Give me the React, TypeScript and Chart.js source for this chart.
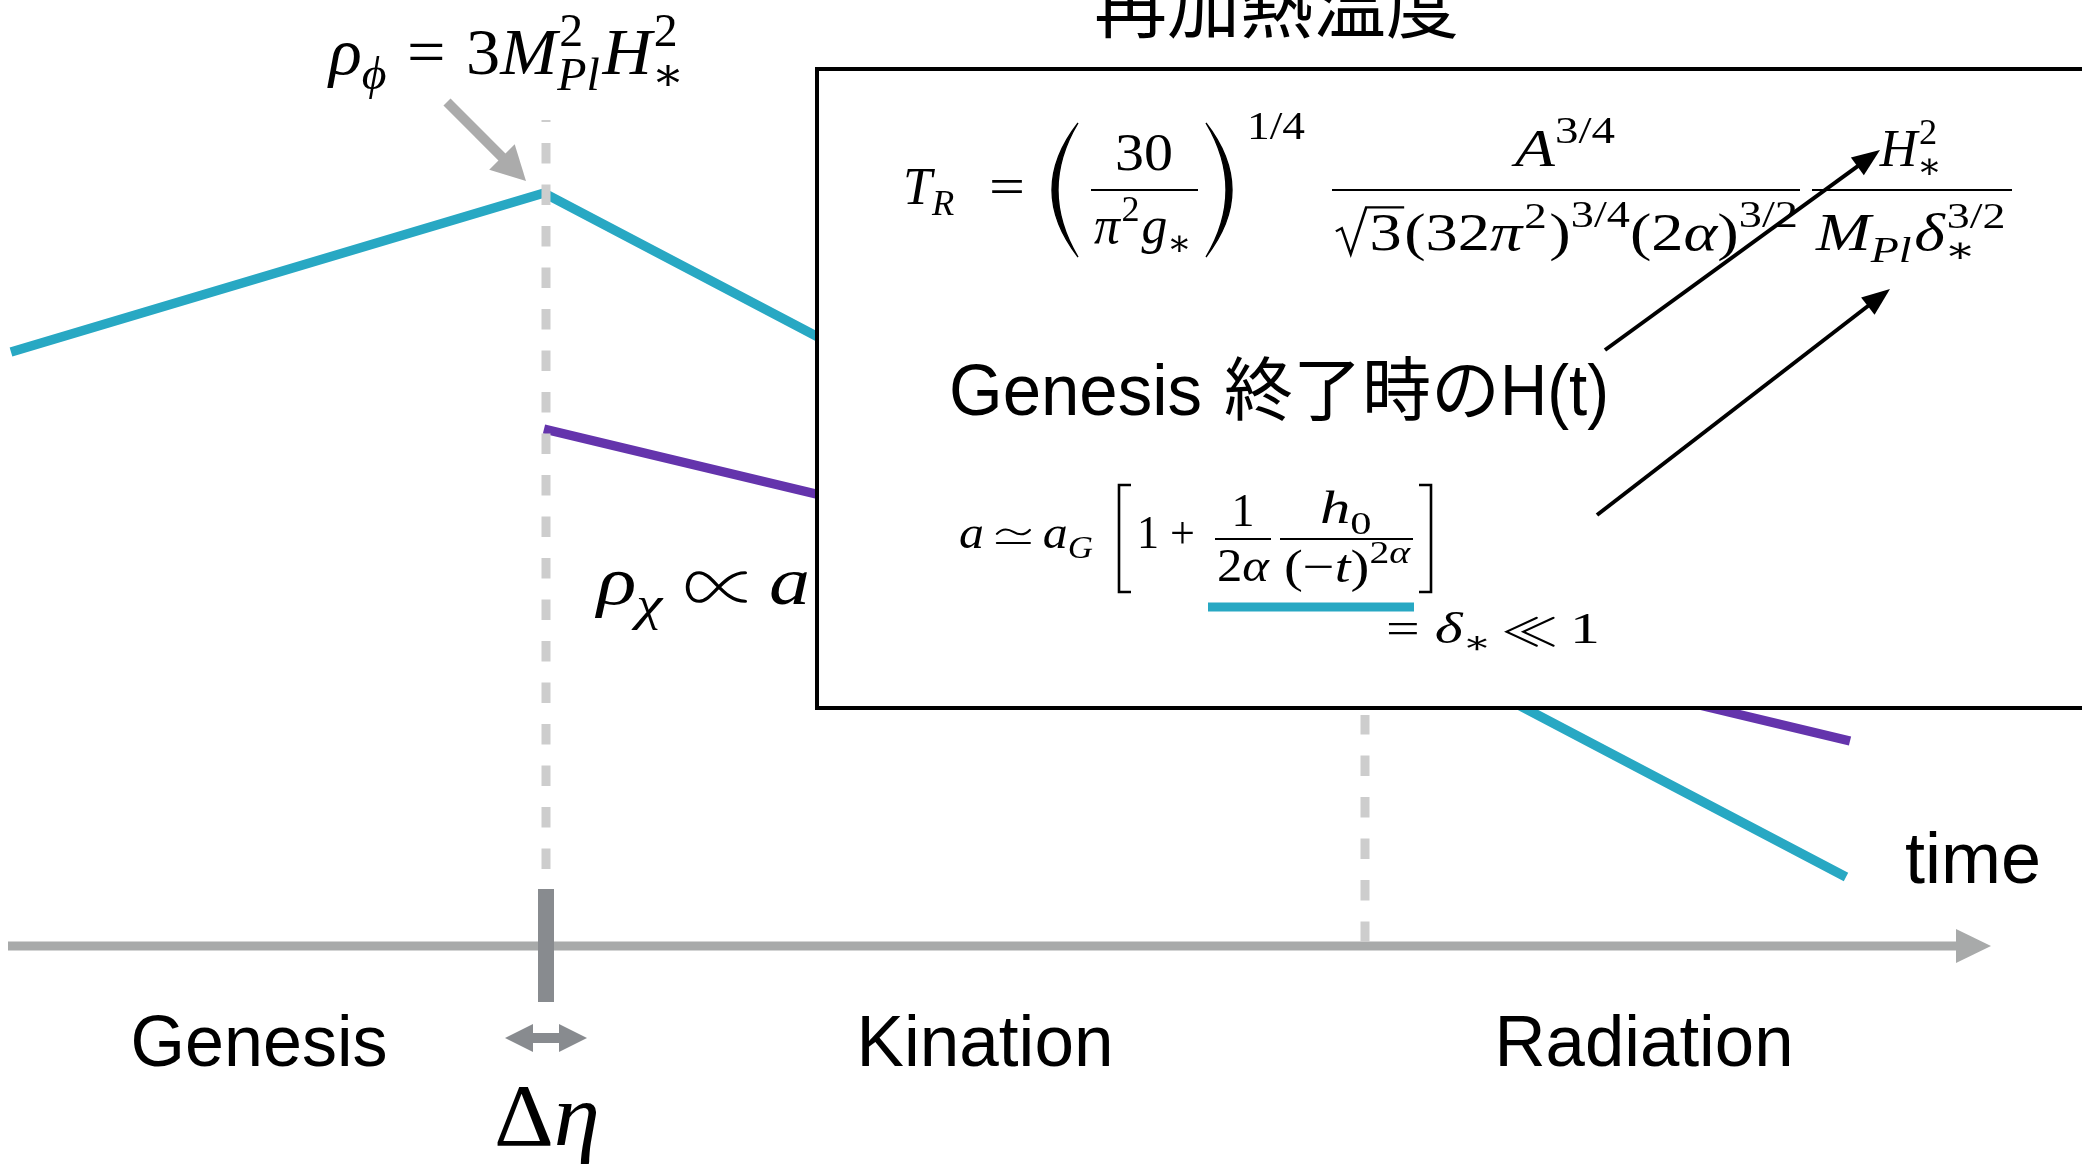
import React, { useEffect, useRef } from "react";
import { Chart, registerables } from "chart.js";

Chart.register(...registerables);

const W = 2082;
const H = 1165;

// x: time (arbitrary units), y: log energy density (arbitrary units)
const rhoPhiTime = [11, 544, 1846];
const rhoPhiLogRho = [813, 972, 288];
const rhoChiTime = [544, 1850];
const rhoChiLogRho = [736, 424];
const transitionTime = [546, 1365];
const transitionTop = [1045, 450];
const transitionBottom = [296, 223];
const axisLevel = 219;
const axisRange = [8, 1960];
const axisTip = 1991;
const tickRange = [163, 276];
const phaseNames = ["Genesis", "Kination", "Radiation"];
const phaseCenters = [259, 985, 1644];
const phaseBaseline = 99;

const CYAN = "#28A8C3";
const PURPLE = "#6434AC";
const DASH = "#CDCDCD";
const AXIS = "#A8AAAA";
const TICK = "#888B8F";
const POINTER = "#ABABAB";

type Tok = {
  t?: string;
  it?: boolean;
  s?: number;
  dy?: number;
  sp?: number;
  sup?: string;
  sub?: string;
  supIt?: boolean;
  subIt?: boolean;
  sqrt?: string;
  sym?: "prop" | "ll" | "simeq";
};

function mfont(size: number, it: boolean) {
  return `${it ? "italic " : ""}${size}px "Liberation Serif", "DejaVu Serif", serif`;
}

function drawSym(ctx: CanvasRenderingContext2D, sym: string, x: number, y: number, B: number) {
  const cy = y - 0.25 * B;
  ctx.save();
  ctx.strokeStyle = "#000";
  ctx.lineCap = "round";
  ctx.lineJoin = "miter";
  ctx.lineWidth = Math.max(1.6, 0.045 * B);
  ctx.beginPath();
  if (sym === "prop") {
    const w = 0.72 * B;
    const h = 0.42 * B;
    const x0 = x + 0.04 * B;
    ctx.moveTo(x0 + w, cy - h / 2);
    ctx.bezierCurveTo(x0 + 0.62 * w, cy - h / 2, x0 + 0.45 * w, cy + h / 2, x0 + 0.22 * w, cy + h / 2);
    ctx.bezierCurveTo(x0 - 0.04 * w, cy + h / 2, x0 - 0.04 * w, cy - h / 2, x0 + 0.22 * w, cy - h / 2);
    ctx.bezierCurveTo(x0 + 0.45 * w, cy - h / 2, x0 + 0.62 * w, cy + h / 2, x0 + w, cy + h / 2);
  } else if (sym === "ll") {
    const w = 0.5 * B;
    const h = 0.62 * B;
    for (const off of [0, 0.28 * B]) {
      ctx.moveTo(x + 0.06 * B + off + w, cy - h / 2);
      ctx.lineTo(x + 0.06 * B + off, cy);
      ctx.lineTo(x + 0.06 * B + off + w, cy + h / 2);
    }
  } else {
    const w = 0.66 * B;
    const x0 = x + 0.06 * B;
    const ty = cy - 0.1 * B;
    const a = 0.07 * B;
    ctx.moveTo(x0, ty + a * 0.6);
    ctx.bezierCurveTo(x0 + 0.2 * w, ty - 1.6 * a, x0 + 0.4 * w, ty - 0.6 * a, x0 + 0.5 * w, ty);
    ctx.bezierCurveTo(x0 + 0.6 * w, ty + 0.6 * a, x0 + 0.8 * w, ty + 1.6 * a, x0 + w, ty - a * 0.6);
    ctx.moveTo(x0, cy + 0.14 * B);
    ctx.lineTo(x0 + w, cy + 0.14 * B);
  }
  ctx.stroke();
  ctx.restore();
}

const SYM_W: Record<string, number> = { prop: 0.8, ll: 0.92, simeq: 0.78 };

function runMath(ctx: CanvasRenderingContext2D, toks: Tok[], x: number, y: number, B: number, draw: boolean) {
  let cx = x;
  ctx.textAlign = "left";
  ctx.textBaseline = "alphabetic";
  for (const k of toks) {
    if (k.sp) {
      cx += k.sp * B;
      continue;
    }
    if (k.sym) {
      if (draw) drawSym(ctx, k.sym, cx, y, B);
      cx += SYM_W[k.sym] * B;
      continue;
    }
    if (k.sqrt !== undefined) {
      ctx.font = mfont(B, false);
      const w = ctx.measureText(k.sqrt).width;
      const rw = 0.55 * B;
      if (draw) {
        ctx.save();
        ctx.lineWidth = Math.max(1.5, 0.04 * B);
        ctx.lineJoin = "miter";
        ctx.beginPath();
        ctx.moveTo(cx + 0.03 * B, y - 0.36 * B);
        ctx.lineTo(cx + 0.12 * B, y - 0.42 * B);
        ctx.lineTo(cx + 0.26 * B, y + 0.08 * B);
        ctx.lineTo(cx + 0.5 * B, y - 0.82 * B);
        ctx.lineTo(cx + rw + w + 0.04 * B, y - 0.82 * B);
        ctx.stroke();
        ctx.restore();
        ctx.fillText(k.sqrt, cx + rw, y);
      }
      cx += rw + w + 0.04 * B;
      continue;
    }
    if (k.sup !== undefined || k.sub !== undefined) {
      const s = 0.7 * B;
      let w = 0;
      if (k.sup) {
        ctx.font = mfont(s, !!k.supIt);
        w = Math.max(w, ctx.measureText(k.sup).width + 0.03 * B);
        if (draw) ctx.fillText(k.sup, cx + 0.03 * B, y - 0.42 * B);
      }
      if (k.sub) {
        ctx.font = mfont(s, !!k.subIt);
        w = Math.max(w, ctx.measureText(k.sub).width);
        if (draw) ctx.fillText(k.sub, cx, y + 0.24 * B);
      }
      cx += w + 0.04 * B;
      continue;
    }
    const size = (k.s ?? 1) * B;
    ctx.font = mfont(size, !!k.it);
    if (draw) ctx.fillText(k.t as string, cx, y + (k.dy ?? 0) * B);
    cx += ctx.measureText(k.t as string).width;
  }
  return cx - x;
}

function math(
  ctx: CanvasRenderingContext2D,
  toks: Tok[],
  x: number,
  y: number,
  B: number,
  align: "left" | "center" = "left",
  fit?: number
) {
  const w = runMath(ctx, toks, 0, 0, B, false);
  const sx = fit ? fit / w : 1;
  const ww = w * sx;
  const left = align === "center" ? x - ww / 2 : x;
  ctx.save();
  ctx.fillStyle = "#000";
  ctx.strokeStyle = "#000";
  ctx.translate(left, y);
  ctx.scale(sx, 1);
  runMath(ctx, toks, 0, 0, B, true);
  ctx.restore();
  return ww;
}

function sans(
  ctx: CanvasRenderingContext2D,
  text: string,
  x: number,
  y: number,
  size: number,
  align: "left" | "center",
  fit: number
) {
  ctx.save();
  ctx.font = `${size}px "Liberation Sans", Arial, sans-serif`;
  const nat = ctx.measureText(text).width;
  const sx = fit / nat;
  const left = align === "center" ? x - fit / 2 : x;
  ctx.translate(left, y);
  ctx.scale(sx, 1);
  ctx.textAlign = "left";
  ctx.textBaseline = "alphabetic";
  ctx.fillStyle = "#000";
  ctx.fillText(text, 0, 0);
  ctx.restore();
  return fit;
}

function cjk(ctx: CanvasRenderingContext2D, text: string, x: number, y: number, size: number) {
  ctx.save();
  ctx.font = `${size}px "Noto Sans CJK JP", "Noto Sans CJK SC", sans-serif`;
  ctx.textAlign = "left";
  ctx.textBaseline = "alphabetic";
  ctx.fillStyle = "#000";
  ctx.fillText(text, x, y);
  const w = ctx.measureText(text).width;
  ctx.restore();
  return w;
}

function arrow(
  ctx: CanvasRenderingContext2D,
  x0: number,
  y0: number,
  x1: number,
  y1: number,
  lw: number,
  hl: number,
  hw: number,
  color: string
) {
  const a = Math.atan2(y1 - y0, x1 - x0);
  const c = Math.cos(a);
  const s = Math.sin(a);
  const bx = x1 - hl * c;
  const by = y1 - hl * s;
  ctx.save();
  ctx.strokeStyle = color;
  ctx.fillStyle = color;
  ctx.lineWidth = lw;
  ctx.lineCap = "butt";
  ctx.beginPath();
  ctx.moveTo(x0, y0);
  ctx.lineTo(bx + c, by + s);
  ctx.stroke();
  ctx.beginPath();
  ctx.moveTo(x1, y1);
  ctx.lineTo(bx + (hw / 2) * s, by - (hw / 2) * c);
  ctx.lineTo(bx - (hw / 2) * s, by + (hw / 2) * c);
  ctx.closePath();
  ctx.fill();
  ctx.restore();
}

function bigParen(ctx: CanvasRenderingContext2D, xOuter: number, xInner: number, yTop: number, yBot: number, thick: number) {
  const mid = (yTop + yBot) / 2;
  const dir = xInner > xOuter ? 1 : -1;
  const c1 = 2 * xOuter - xInner;
  const c2 = 2 * (xOuter + dir * thick) - xInner;
  ctx.save();
  ctx.fillStyle = "#000";
  ctx.strokeStyle = "#000";
  ctx.beginPath();
  ctx.moveTo(xInner, yTop);
  ctx.quadraticCurveTo(c1, mid, xInner, yBot);
  ctx.quadraticCurveTo(c2, mid, xInner, yTop);
  ctx.fill();
  ctx.lineWidth = 1.3;
  ctx.stroke();
  ctx.restore();
}

function bracket(ctx: CanvasRenderingContext2D, x: number, yTop: number, yBot: number, w: number, left: boolean) {
  const d = left ? 1 : -1;
  ctx.save();
  ctx.strokeStyle = "#000";
  ctx.lineWidth = 2.6;
  ctx.lineJoin = "miter";
  ctx.beginPath();
  ctx.moveTo(x + d * w, yTop);
  ctx.lineTo(x, yTop);
  ctx.lineTo(x, yBot);
  ctx.lineTo(x + d * w, yBot);
  ctx.stroke();
  ctx.restore();
}

function hbar(ctx: CanvasRenderingContext2D, x0: number, x1: number, y: number, lw: number, color = "#000") {
  ctx.save();
  ctx.strokeStyle = color;
  ctx.lineWidth = lw;
  ctx.beginPath();
  ctx.moveTo(x0, y);
  ctx.lineTo(x1, y);
  ctx.stroke();
  ctx.restore();
}

const overlay = {
  id: "overlay",
  afterDatasetsDraw(chart: any) {
    const ctx: CanvasRenderingContext2D = chart.ctx;
    const xs = chart.scales.x;
    const ys = chart.scales.y;
    const X = (u: number) => xs.getPixelForValue(u);
    const Y = (v: number) => ys.getPixelForValue(v);

    // time axis arrow head
    ctx.save();
    ctx.fillStyle = AXIS;
    ctx.beginPath();
    ctx.moveTo(X(axisTip), Y(axisLevel));
    ctx.lineTo(X(axisRange[1] - 4), Y(axisLevel + 17));
    ctx.lineTo(X(axisRange[1] - 4), Y(axisLevel - 17));
    ctx.closePath();
    ctx.fill();
    ctx.restore();

    // Δη double arrow
    const dx0 = X(505), dx1 = X(587), dyy = Y(127);
    ctx.save();
    ctx.fillStyle = TICK;
    ctx.fillRect(dx0 + 20, dyy - 5, dx1 - dx0 - 40, 10);
    ctx.beginPath();
    ctx.moveTo(dx0, dyy);
    ctx.lineTo(dx0 + 28, dyy - 14);
    ctx.lineTo(dx0 + 28, dyy + 14);
    ctx.closePath();
    ctx.fill();
    ctx.beginPath();
    ctx.moveTo(dx1, dyy);
    ctx.lineTo(dx1 - 28, dyy - 14);
    ctx.lineTo(dx1 - 28, dyy + 14);
    ctx.closePath();
    ctx.fill();
    ctx.restore();

    // pointer arrow to peak
    arrow(ctx, X(447), Y(1063), X(526), Y(984), 10, 34, 36, POINTER);

    // ρχ ∝ a (partly hidden by the box)
    math(
      ctx,
      [
        { t: "ρ", it: true },
        { t: "χ", it: true, s: 0.72, dy: 0.24 },
        { sp: 0.25 },
        { sym: "prop" },
        { sp: 0.25 },
        { t: "a", it: true },
      ],
      X(597),
      Y(561),
      68,
      "left",
      213
    );

    // info box
    const bx0 = X(817), by0 = Y(1096), bx1 = X(2110), by1 = Y(457);
    ctx.save();
    ctx.fillStyle = "#fff";
    ctx.fillRect(bx0, by0, bx1 - bx0, by1 - by0);
    ctx.strokeStyle = "#000";
    ctx.lineWidth = 4;
    ctx.strokeRect(bx0, by0, bx1 - bx0, by1 - by0);
    ctx.restore();

    // titles & labels
    cjk(ctx, "再加熱温度", X(1094), Y(1133), 73);
    phaseNames.forEach((n, i) =>
      sans(ctx, n, X(phaseCenters[i]), Y(phaseBaseline), 72, "center", [257, 257, 299][i])
    );
    sans(ctx, "time", X(1905), Y(282), 72, "left", 136);

    const gy = Y(750);
    sans(ctx, "Genesis", X(949), gy, 72, "left", 253);
    cjk(ctx, "終了時の", X(1224), gy, 69);
    sans(ctx, "H(t)", X(1500), gy, 72, "left", 109);

    // ρφ = 3 M_Pl^2 H_*^2
    math(
      ctx,
      [
        { t: "ρ", it: true },
        { t: "ϕ", it: true, s: 0.7, dy: 0.22 },
        { sp: 0.3 },
        { t: "=" },
        { sp: 0.3 },
        { t: "3" },
        { t: "M", it: true },
        { sup: "2", sub: "Pl", subIt: true },
        { t: "H", it: true },
        { sup: "2", sub: "∗" },
      ],
      X(329),
      Y(1091),
      66,
      "left",
      358
    );

    // Δη
    math(ctx, [{ t: "Δ" }, { t: "η", it: true }], X(494), Y(20), 88, "left", 106);

    // T_R formula
    const B = 52;
    math(ctx, [{ t: "T", it: true }, { t: "R", it: true, s: 0.7, dy: 0.22 }], X(903), Y(961), B);
    math(ctx, [{ t: "=" }], X(989), Y(961), B, "left", 36);
    bigParen(ctx, X(1052), X(1078), Y(1042), Y(908), 6);
    hbar(ctx, X(1091), X(1198), Y(975), 2.2);
    math(ctx, [{ t: "30" }], X(1144), Y(995), B, "center", 58);
    math(ctx, [{ t: "π", it: true }, { sup: "2" }, { t: "g", it: true }, { sub: "∗" }], X(1144), Y(922), B, "center", 100);
    bigParen(ctx, X(1232), X(1206), Y(1042), Y(908), 6);
    math(ctx, [{ t: "1/4", s: 0.75 }], X(1247), Y(1026), B, "left", 58);

    hbar(ctx, X(1332), X(1800), Y(975), 2.2);
    math(ctx, [{ t: "A", it: true }, { t: "3/4", s: 0.72, dy: -0.45 }], X(1565), Y(999), B, "center", 100);
    math(
      ctx,
      [
        { sqrt: "3" },
        { t: "(32" },
        { t: "π", it: true },
        { sup: "2" },
        { t: ")" },
        { t: "3/4", s: 0.72, dy: -0.45 },
        { t: "(2" },
        { t: "α", it: true },
        { t: ")" },
        { t: "3/2", s: 0.72, dy: -0.45 },
      ],
      X(1566),
      Y(915),
      B,
      "center",
      464
    );

    hbar(ctx, X(1812), X(2012), Y(975), 2.2);
    math(ctx, [{ t: "H", it: true }, { sup: "2", sub: "∗" }], X(1912), Y(999), B, "center");
    math(
      ctx,
      [{ t: "M", it: true }, { sub: "Pl", subIt: true }, { t: "δ", it: true }, { sup: "3/2", sub: "∗" }],
      X(1912),
      Y(915),
      B,
      "center",
      192
    );

    // a ≃ a_G [1 + 1/(2α) h0/(-t)^{2α}]
    const b = 46;
    math(
      ctx,
      [
        { t: "a", it: true },
        { sp: 0.2 },
        { sym: "simeq" },
        { sp: 0.2 },
        { t: "a", it: true },
        { t: "G", it: true, s: 0.7, dy: 0.22 },
      ],
      X(959),
      Y(617),
      b,
      "left",
      134
    );
    bracket(ctx, X(1119), Y(680), Y(573), 12, true);
    math(ctx, [{ t: "1" }, { sp: 0.25 }, { t: "+" }], X(1137), Y(617), b, "left", 58);
    hbar(ctx, X(1215), X(1271), Y(626), 2);
    math(ctx, [{ t: "1" }], X(1243), Y(639), b, "center");
    math(ctx, [{ t: "2" }, { t: "α", it: true }], X(1243), Y(584), b, "center", 52);
    hbar(ctx, X(1280), X(1413), Y(626), 2);
    math(ctx, [{ t: "h", it: true }, { sub: "0" }], X(1347), Y(642), b, "center", 54);
    math(
      ctx,
      [
        { t: "(" },
        { t: "−" },
        { t: "t", it: true },
        { t: ")" },
        { t: "2", s: 0.7, dy: -0.42 },
        { t: "α", it: true, s: 0.7, dy: -0.42 },
      ],
      X(1347),
      Y(583),
      b,
      "center",
      126
    );
    bracket(ctx, X(1431), Y(680), Y(573), 12, false);

    hbar(ctx, X(1208), X(1414), Y(558), 9, CYAN);
    math(
      ctx,
      [
        { t: "=" },
        { sp: 0.25 },
        { t: "δ", it: true },
        { t: "∗", s: 0.7, dy: 0.22 },
        { sp: 0.2 },
        { sym: "ll" },
        { sp: 0.2 },
        { t: "1" },
      ],
      X(1386),
      Y(522),
      45,
      "left",
      214
    );

    // black arrows
    arrow(ctx, X(1605), Y(815), X(1880), Y(1015), 4, 28, 22, "#000");
    arrow(ctx, X(1597), Y(650), X(1890), Y(876), 4, 28, 22, "#000");
  },
};

function series(xs: number[], ys: number[]) {
  return xs.map((x, i) => ({ x, y: ys[i] }));
}

export default function App() {
  const ref = useRef<HTMLCanvasElement>(null);
  useEffect(() => {
    document.body.style.margin = "0";
    const line = { showLine: true, pointRadius: 0, pointHoverRadius: 0, fill: false, tension: 0 };
    const chart = new Chart(ref.current as HTMLCanvasElement, {
      type: "scatter",
      data: {
        datasets: [
          {
            ...line,
            label: "tick",
            data: series([546, 546], tickRange),
            borderColor: TICK,
            borderWidth: 16,
          },
          {
            ...line,
            label: "genesis end",
            data: series([transitionTime[0], transitionTime[0]], [transitionBottom[0], transitionTop[0]]),
            borderColor: DASH,
            borderWidth: 9,
            borderDash: [20.5, 21],
          },
          {
            ...line,
            label: "reheating",
            data: series([transitionTime[1], transitionTime[1]], [transitionBottom[1], transitionTop[1]]),
            borderColor: DASH,
            borderWidth: 9,
            borderDash: [20.5, 21],
          },
          {
            ...line,
            label: "time axis",
            data: series(axisRange, [axisLevel, axisLevel]),
            borderColor: AXIS,
            borderWidth: 9,
          },
          {
            ...line,
            label: "ρφ",
            data: series(rhoPhiTime, rhoPhiLogRho),
            borderColor: CYAN,
            borderWidth: 9.5,
            borderJoinStyle: "miter",
          },
          {
            ...line,
            label: "ρχ",
            data: series(rhoChiTime, rhoChiLogRho),
            borderColor: PURPLE,
            borderWidth: 9.5,
          },
        ] as any,
      },
      options: {
        animation: false,
        responsive: false,
        devicePixelRatio: 1,
        layout: { padding: 0 },
        events: [],
        plugins: { legend: { display: false }, tooltip: { enabled: false } },
        scales: {
          x: { type: "linear", min: 0, max: W, display: false },
          y: { type: "linear", min: 0, max: H, display: false },
        },
      },
      plugins: [overlay],
    });
    return () => chart.destroy();
  }, []);
  return (
    <div style={{ width: W, height: H, background: "#fff" }}>
      <canvas ref={ref} width={W} height={H} style={{ display: "block", width: W, height: H }} />
    </div>
  );
}
